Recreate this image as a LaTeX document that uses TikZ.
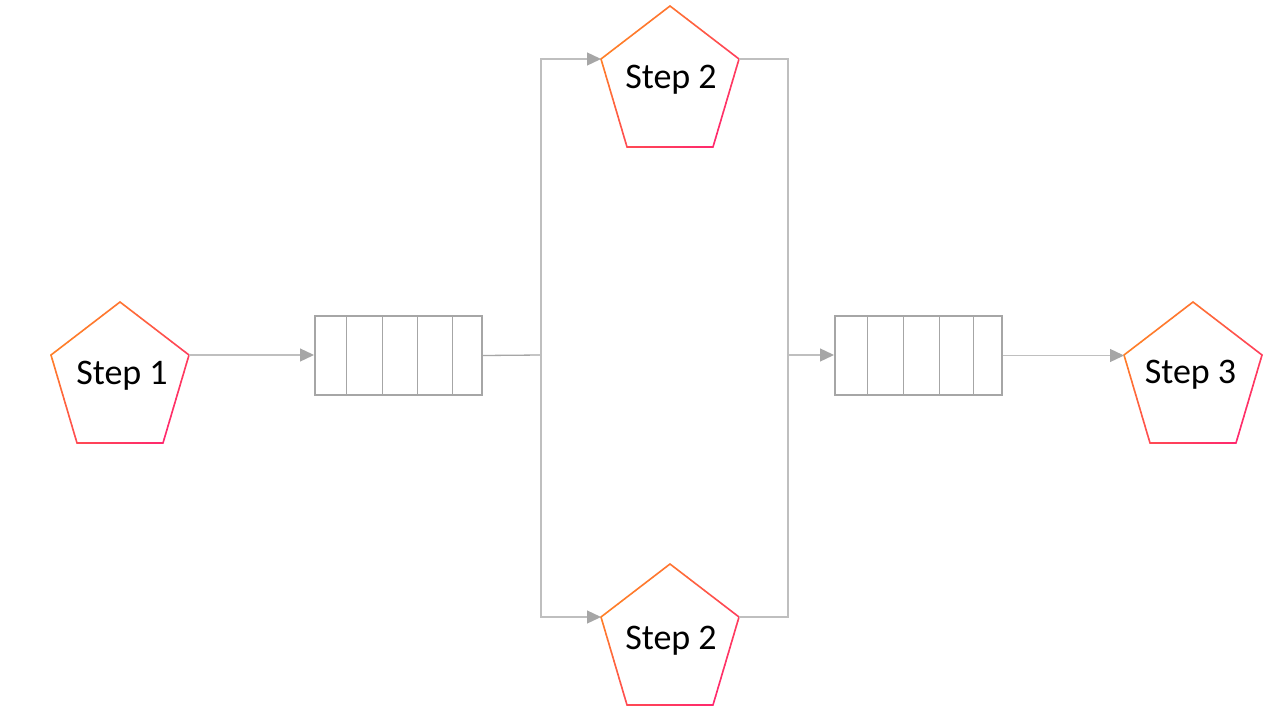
\documentclass[tikz,border=0pt]{standalone}
\usepackage{fontspec}
\setmainfont{Carlito}
\usetikzlibrary{arrows.meta,calc}
\definecolor{orangeC}{RGB}{255,128,40}
\definecolor{pinkC}{RGB}{255,40,110}
\definecolor{boxC}{RGB}{166,166,166}
\definecolor{lineC}{RGB}{191,191,191}
\tikzset{
  qbox/.style={draw=boxC, line width=2pt, minimum width=167pt, minimum height=79pt, inner sep=0pt, fill=white},
  qdiv/.style={draw=boxC, line width=1pt},
  conn/.style={draw=lineC, line width=1.3pt},
  connarrow/.style={conn, -{Triangle[length=14pt,width=13pt,fill=boxC,color=boxC]}},
  lbl/.style={anchor=base, inner sep=0pt, font=\fontsize{36}{40}\selectfont},
  gseg/.style={line width=1.6pt, line cap=round}
}
% name, center x, apex y, label, label baseline y, label center x
\newcommand\gpent[6]{%
  \coordinate (#1-a) at (#2,#3);
  \coordinate (#1-l) at ({#2-69},{#3+53});
  \coordinate (#1-r) at ({#2+69},{#3+53});
  \coordinate (#1-bl) at ({#2-43},{#3+141});
  \coordinate (#1-br) at ({#2+43},{#3+141});
  \foreach \P/\Q/\tp/\tq in {l/a/0/12, a/r/12/75, r/br/75/100, br/bl/100/62, bl/l/62/0}{
    \foreach \i in {0,...,19}{
      \pgfmathsetmacro\pc{\tp+(\tq-\tp)*(\i+0.5)/20}
      \draw[gseg, color=pinkC!\pc!orangeC] ($(#1-\P)!{\i/20}!(#1-\Q)$) -- ($(#1-\P)!{(\i+1)/20}!(#1-\Q)$);
    }
  }
  \node[lbl] (#1-t) at (#6,#5) {#4};
}
\begin{document}
\begin{tikzpicture}[x=1pt,y=-1pt]
\useasboundingbox[fill=white] (0,0) rectangle (1280,720);

% pentagons
\gpent{s1}{120}{302}{Step 1}{384}{122}
\gpent{s2a}{670}{6}{Step 2}{88}{671}
\gpent{s2b}{670}{564}{Step 2}{649}{671}
\gpent{s3}{1193}{302}{Step 3}{383}{1190.5}

% queues
\node[qbox] (q1) at (398.5,355.5) {};
\node[qbox] (q2) at (918.5,355.5) {};
\foreach \q/\dx in {q1/32, q1/68, q1/103, q1/138, q2/33, q2/69, q2/105, q2/139}{
  \draw[qdiv] ($(\q.north west)+(\dx,0)$) -- ($(\q.south west)+(\dx,0)$);
}

% split and merge points
\coordinate (sp) at (541,355);
\coordinate (mg) at (788,355);

% connectors
\draw[connarrow] (s1-r) -- (s1-r -| q1.west);
\draw[conn, draw=boxC] (q1.east) -- (sp);
\draw[connarrow] (sp) |- (s2a-l);
\draw[connarrow] (sp) |- (s2b-l);
\draw[conn] (s2a-r) -| (mg);
\draw[conn] (s2b-r) -| (mg);
\draw[connarrow] (mg) -- (mg -| q2.west);
\draw[connarrow] (q2.east) -- (q2.east -| s3-l);
\end{tikzpicture}
\end{document}
